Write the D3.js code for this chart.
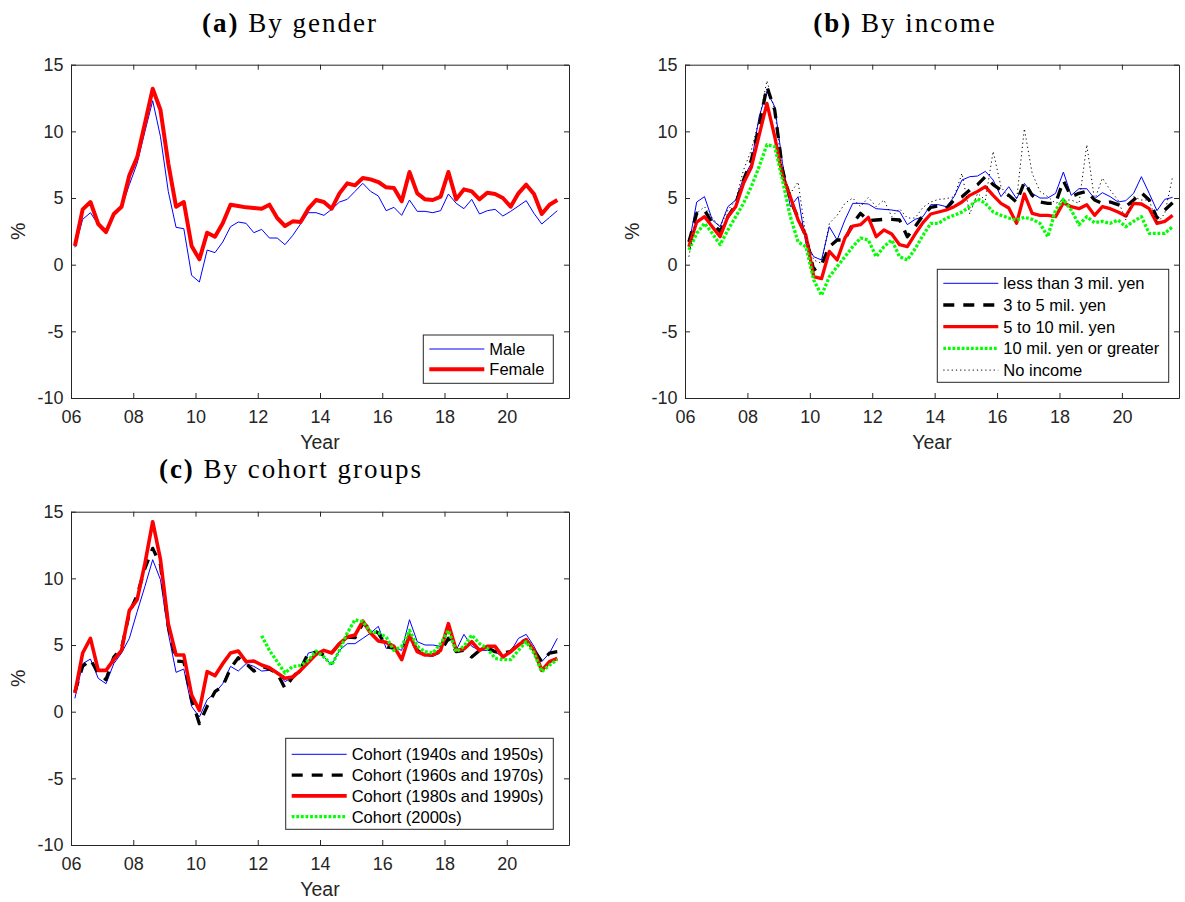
<!DOCTYPE html>
<html>
<head>
<meta charset="utf-8">
<script src="https://cdn.jsdelivr.net/npm/d3@7"></script>
<style>
body { margin: 0; background: #fff; }
svg { display: block; }
</style>
</head>
<body>
<div id="chart"></div>
<script>
// quarterly observations 2006Q1 .. 2021Q3, plotted at mid-quarter
const quarters = d3.range(63).map(i => 2006.125 + 0.25 * i);

const xTicks = [2006, 2008, 2010, 2012, 2014, 2016, 2018, 2020];
const yTicks = [-10, -5, 0, 5, 10, 15];

// (a) by gender
const male = [1.3, 3.4, 3.9, 3.0, 2.4, 3.7, 4.3, 6.0, 7.6, 10.0, 12.3, 9.6, 5.5, 2.8, 2.7, -0.8, -1.3, 1.1, 0.9, 1.7, 2.85, 3.2, 3.1, 2.4, 2.65, 2.0, 2.0, 1.5, 2.2, 3.05, 3.9, 3.9,
  3.7, 4.15, 4.7, 4.9, 5.5, 6.1, 5.5, 5.15, 4.05, 4.3, 3.7, 4.85, 4.0, 4.0, 3.9, 4.05, 5.3, 4.6, 4.2, 4.9, 3.8, 4.05, 4.15, 3.65, 4.0, 4.4, 4.8, 3.85, 3.05, 3.55, 4.05];
const female = [1.4, 4.15, 4.7, 3.05, 2.45, 3.8, 4.35, 6.7, 8.05, 10.6, 13.2, 11.6, 7.6, 4.35, 4.7, 1.4, 0.4, 2.4, 2.1, 3.1, 4.5, 4.4, 4.3, 4.25, 4.2, 4.5, 3.5, 2.9, 3.25, 3.2, 4.2, 4.85,
  4.7, 4.2, 5.35, 6.1, 5.95, 6.5, 6.4, 6.2, 5.8, 5.75, 4.75, 6.95, 5.35, 4.9, 4.85, 5.1, 6.95, 4.9, 5.65, 5.5, 4.9, 5.4, 5.3, 5.0, 4.35, 5.35, 6.0, 5.3, 3.8, 4.5, 4.85];

// (b) by income
const incLess3 = [1.5, 4.7, 5.1, 3.35, 2.85, 4.35, 4.85, 6.5, 7.6, 11.1, 13.0, 11.85, 7.6, 4.35, 5.1, 1.6, 0.6, 0.35, 2.85, 1.85, 3.35, 4.6, 4.6, 4.55, 4.2, 4.15, 4.1, 4.0, 3.0, 3.4, 3.6, 4.5,
  4.5, 4.35, 5.1, 6.35, 6.6, 6.65, 7.0, 6.35, 5.1, 5.85, 4.95, 6.1, 5.35, 5.0, 5.0, 5.35, 6.95, 5.2, 5.7, 5.7, 4.95, 5.4, 5.1, 4.7, 4.8, 5.35, 6.6, 5.35, 4.05, 4.9, 5.05];
const inc3to5 = [1.7, 3.85, 4.1, 3.1, 2.5, 3.6, 4.5, 6.35, 7.85, 10.35, 13.35, 11.6, 7.1, 4.85, 3.5, 2.1, -0.4, 0.0, 1.35, 1.85, 1.85, 3.1, 3.85, 3.3, 3.35, 3.4, 3.4, 3.35, 2.1, 2.85, 3.7, 4.3,
  4.4, 4.2, 4.85, 5.1, 5.6, 6.0, 6.6, 6.0, 5.6, 5.2, 4.7, 6.2, 5.2, 4.7, 4.6, 4.6, 6.3, 5.1, 5.35, 5.5, 4.85, 4.6, 4.7, 4.5, 4.35, 4.85, 5.4, 4.85, 3.5, 4.1, 4.65];
const inc5to10 = [1.35, 3.2, 3.6, 2.85, 2.1, 3.6, 4.35, 6.1, 7.3, 9.7, 12.1, 9.6, 6.7, 5.1, 3.35, 2.2, -0.9, -1.05, 1.0, 0.35, 2.0, 2.9, 3.0, 3.55, 2.1, 2.6, 2.3, 1.5, 1.35, 2.3, 3.15, 3.8,
  3.95, 4.1, 4.35, 4.7, 5.2, 5.5, 5.85, 5.2, 4.6, 4.25, 3.1, 5.3, 3.85, 3.7, 3.7, 3.6, 4.65, 4.35, 4.2, 4.5, 3.7, 4.35, 4.2, 3.95, 3.65, 4.6, 4.55, 4.2, 3.1, 3.25, 3.7];
const inc10plus = [1.1, 2.35, 3.1, 2.35, 1.5, 2.6, 3.6, 4.6, 5.85, 7.35, 9.0, 8.85, 6.35, 3.6, 1.7, 1.35, -1.15, -2.3, -0.9, -0.15, 0.6, 1.35, 2.0, 1.85, 0.6, 1.35, 1.85, 0.6, 0.35, 1.2, 2.2, 3.1,
  3.1, 3.5, 3.7, 3.95, 4.35, 4.95, 4.6, 3.95, 3.7, 3.5, 3.35, 3.55, 3.4, 3.1, 2.1, 4.1, 4.9, 4.1, 3.0, 3.6, 3.15, 3.25, 3.1, 3.35, 2.85, 3.25, 3.6, 2.35, 2.35, 2.35, 2.85];
const incNone = [0.6, 3.85, 4.35, 3.5, 2.85, 4.1, 4.85, 7.1, 8.6, 10.85, 13.8, 11.6, 6.85, 5.35, 6.2, 2.1, 0.35, 0.1, 3.1, 3.7, 4.6, 5.0, 4.35, 5.05, 4.35, 4.85, 3.6, 4.2, 3.5, 3.5, 4.3, 4.7,
  4.9, 4.95, 5.1, 6.85, 3.8, 5.35, 4.85, 8.5, 5.85, 5.0, 4.85, 10.2, 6.85, 5.5, 5.1, 4.6, 4.85, 4.85, 4.6, 9.0, 4.85, 6.5, 5.6, 4.85, 3.35, 5.1, 4.85, 4.85, 3.1, 3.85, 6.6];

// (c) by cohort groups
const coh4050 = [1.0, 3.6, 3.95, 2.5, 2.1, 3.6, 4.4, 5.5, 7.5, 9.4, 11.4, 9.9, 5.9, 2.95, 3.2, 0.4, -0.4, 0.9, 1.4, 2.1, 3.4, 3.05, 3.6, 3.4, 3.05, 3.1, 3.0, 2.25, 2.6, 2.95, 4.4, 4.55,
  4.1, 3.5, 4.6, 5.1, 5.1, 5.5, 5.9, 6.4, 4.75, 4.8, 4.6, 6.9, 5.25, 5.0, 5.0, 4.9, 6.5, 4.6, 5.8, 4.9, 4.6, 4.6, 4.5, 4.1, 4.5, 5.5, 5.8, 4.9, 3.75, 4.4, 5.5];
const coh6070 = [1.5, 3.4, 3.9, 2.9, 2.4, 4.1, 4.75, 7.4, 8.75, 10.75, 12.25, 11.0, 6.4, 3.8, 3.75, 0.9, -0.9, 0.4, 1.5, 1.9, 3.25, 4.05, 3.6, 3.05, 3.4, 3.2, 2.9, 1.75, 2.6, 3.2, 4.4, 4.45,
  4.25, 4.4, 5.1, 5.6, 5.55, 6.6, 6.25, 5.9, 4.9, 4.75, 4.5, 5.6, 4.6, 4.25, 4.25, 4.5, 5.5, 4.5, 4.6, 4.1, 4.6, 4.8, 4.5, 4.4, 4.5, 5.1, 5.4, 4.6, 3.75, 4.4, 4.5];
const coh8090 = [1.4, 4.4, 5.5, 3.1, 3.1, 3.9, 4.6, 7.6, 8.4, 11.1, 14.25, 11.4, 6.6, 4.25, 4.25, 1.25, 0.1, 3.0, 2.7, 3.6, 4.4, 4.55, 3.75, 3.8, 3.5, 3.3, 2.9, 2.5, 2.6, 3.1, 3.7, 4.3,
  4.6, 4.4, 5.1, 5.6, 5.75, 6.8, 5.9, 5.3, 5.2, 4.9, 3.9, 5.75, 4.5, 4.25, 4.25, 4.6, 6.6, 4.6, 4.7, 5.25, 4.6, 4.9, 4.9, 4.1, 4.5, 5.0, 5.4, 4.6, 3.1, 3.75, 4.0];
const coh2000 = [null, null, null, null, null, null, null, null, null, null, null, null, null, null, null, null, null, null, null, null, null, null, null, null,
  5.7, 4.6, 3.75, 2.9, 3.4, 3.45, 3.85, 4.55, 4.1, 3.5, 4.6, 5.9, 6.9, 6.75, 6.0, 5.9, 5.6, 4.6, 4.9, 6.1, 4.9, 4.5, 4.4, 5.1, 6.1, 4.5, 4.9, 5.75, 5.1, 4.75, 4.0, 3.9, 3.9, 4.6, 5.25, 4.4, 3.0, 3.5, 3.9];

const SANS = '"Liberation Sans", Arial, Helvetica, sans-serif';
const SERIF = '"Liberation Serif", "Times New Roman", serif';
const AXIS = '#262626';

const panels = [
    {
        tag: '(a)', title: ' By gender', titleX: 290, titleY: 31.7,
        left: 71, right: 569, top: 64.7, bottom: 398, xMax: 2022,
        series: [
            { name: 'Male', values: male, color: '#0000ff', width: 1 },
            { name: 'Female', values: female, color: '#ff0000', width: 4 }
        ],
        legend: { x: 423.3, y: 335, w: 130, h: 48.3, first: 14, step: 20.3 }
    },
    {
        tag: '(b)', title: ' By income', titleX: 905, titleY: 31.7,
        left: 685, right: 1179, top: 64.7, bottom: 398, xMax: 2021.83,
        series: [
            { name: 'less than 3 mil. yen', values: incLess3, color: '#0000ff', width: 1 },
            { name: '3 to 5 mil. yen', values: inc3to5, color: '#000000', width: 3.3, dash: '11,9' },
            { name: '5 to 10 mil. yen', values: inc5to10, color: '#ff0000', width: 3.3 },
            { name: '10 mil. yen or greater', values: inc10plus, color: '#00ff00', width: 3.3, dash: '2.8,1.8' },
            { name: 'No income', values: incNone, color: '#000000', width: 1, dash: '1.2,3' }
        ],
        legend: { x: 937.3, y: 269.3, w: 231.4, h: 113, first: 14, step: 21.7 }
    },
    {
        tag: '(c)', title: ' By cohort groups', titleX: 291, titleY: 478,
        left: 71, right: 569, top: 511.7, bottom: 845, xMax: 2022,
        series: [
            { name: 'Cohort (1940s and 1950s)', values: coh4050, color: '#0000ff', width: 1 },
            { name: 'Cohort (1960s and 1970s)', values: coh6070, color: '#000000', width: 3.3, dash: '11,9' },
            { name: 'Cohort (1980s and 1990s)', values: coh8090, color: '#ff0000', width: 3.6 },
            { name: 'Cohort (2000s)', values: coh2000, color: '#00ff00', width: 3.3, dash: '2.8,1.8' }
        ],
        legend: { x: 285.7, y: 738.3, w: 267.6, h: 91, first: 16, step: 20.8 }
    }
];

const svg = d3.select('#chart').append('svg')
    .attr('width', 1185)
    .attr('height', 902)
    .style('background', '#fff');

function styleAxis(sel, showText) {
    sel.attr('font-family', SANS)
        .attr('font-size', 18)
        .style('color', AXIS);
    sel.select('.domain').attr('stroke-width', 1);
    if (!showText) sel.selectAll('text').remove();
}

function drawPanel(p) {
    const g = svg.append('g');
    const x = d3.scaleLinear().domain([2006, p.xMax]).range([p.left, p.right]);
    const y = d3.scaleLinear().domain([-10, 15]).range([p.bottom, p.top]);
    const fmtYear = d => String(d % 100).padStart(2, '0');
    const fmtPct = d => String(d); // plain hyphen minus, as in the original

    // box with inward ticks on all sides
    g.append('g').attr('transform', 'translate(0,' + p.bottom + ')')
        .call(d3.axisBottom(x).tickValues(xTicks).tickFormat(fmtYear).tickSizeInner(-5).tickSizeOuter(0).tickPadding(12))
        .call(s => styleAxis(s, true));
    g.append('g').attr('transform', 'translate(0,' + p.top + ')')
        .call(d3.axisTop(x).tickValues(xTicks).tickSizeInner(-5).tickSizeOuter(0))
        .call(s => styleAxis(s, false));
    g.append('g').attr('transform', 'translate(' + p.left + ',0)')
        .call(d3.axisLeft(y).tickValues(yTicks).tickFormat(fmtPct).tickSizeInner(-5).tickSizeOuter(0).tickPadding(7.5))
        .call(s => styleAxis(s, true));
    g.append('g').attr('transform', 'translate(' + p.right + ',0)')
        .call(d3.axisRight(y).tickValues(yTicks).tickSizeInner(-5).tickSizeOuter(0))
        .call(s => styleAxis(s, false));

    // axis labels
    g.append('text')
        .attr('x', (p.left + p.right) / 2)
        .attr('y', p.bottom + 51)
        .attr('text-anchor', 'middle')
        .attr('font-family', SANS)
        .attr('font-size', 19.5)
        .attr('fill', AXIS)
        .text('Year');
    g.append('text')
        .attr('transform', 'translate(' + (p.left - 46) + ',' + ((p.top + p.bottom) / 2) + ') rotate(-90)')
        .attr('text-anchor', 'middle')
        .attr('font-family', SANS)
        .attr('font-size', 19.5)
        .attr('fill', AXIS)
        .text('%');

    // caption
    const t = svg.append('text')
        .attr('x', p.titleX)
        .attr('y', p.titleY)
        .attr('text-anchor', 'middle')
        .attr('font-family', SERIF)
        .attr('font-size', 27)
        .attr('letter-spacing', 2)
        .attr('fill', '#000');
    t.append('tspan').attr('font-weight', 'bold').text(p.tag);
    t.append('tspan').text(p.title);

    // series
    const line = d3.line()
        .defined(d => d[1] != null)
        .x(d => x(d[0]))
        .y(d => y(d[1]));
    p.series.forEach(s => {
        g.append('path')
            .datum(quarters.map((q, i) => [q, s.values[i]]))
            .attr('d', line)
            .attr('fill', 'none')
            .attr('stroke', s.color)
            .attr('stroke-width', s.width)
            .attr('stroke-dasharray', s.dash || null)
            .attr('stroke-linejoin', 'round');
    });

    // legend
    const L = p.legend;
    const lg = g.append('g');
    lg.append('rect')
        .attr('x', L.x).attr('y', L.y)
        .attr('width', L.w).attr('height', L.h)
        .attr('fill', '#fff')
        .attr('stroke', AXIS)
        .attr('stroke-width', 1);
    p.series.forEach((s, i) => {
        const ry = L.y + L.first + i * L.step;
        lg.append('line')
            .attr('x1', L.x + 6).attr('x2', L.x + 61)
            .attr('y1', ry).attr('y2', ry)
            .attr('stroke', s.color)
            .attr('stroke-width', s.width)
            .attr('stroke-dasharray', s.dash || null);
        lg.append('text')
            .attr('x', L.x + 66)
            .attr('y', ry)
            .attr('dy', '0.36em')
            .attr('font-family', SANS)
            .attr('font-size', 16.5)
            .attr('fill', '#000')
            .text(s.name);
    });
}

panels.forEach(drawPanel);
</script>
</body>
</html>
